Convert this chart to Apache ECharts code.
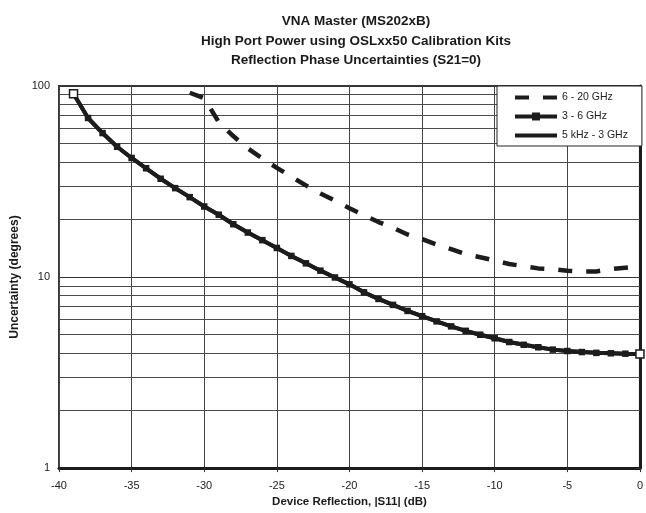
<!DOCTYPE html>
<html>
<head>
<meta charset="utf-8">
<script src="https://cdn.jsdelivr.net/npm/echarts@6/dist/echarts.min.js"></script>
<style>html,body{margin:0;padding:0;background:#fff}#c{width:646px;height:513px}</style>
</head>
<body>
<div id="c"></div>
<script>
// Device reflection |S11| (dB)
var reflection = [-39,-38,-37,-36,-35,-34,-33,-32,-31,-30,-29,-28,-27,-26,-25,-24,-23,-22,-21,-20,-19,-18,-17,-16,-15,-14,-13,-12,-11,-10,-9,-8,-7,-6,-5,-4,-3,-2,-1,0];
// 5 kHz - 3 GHz (degrees)
var lowBand = [91,68,56.7,48.1,42.0,37.1,32.7,29.2,26.2,23.4,21.2,18.9,17.1,15.6,14.2,12.9,11.8,10.8,9.95,9.16,8.32,7.68,7.15,6.65,6.24,5.86,5.52,5.23,4.99,4.78,4.57,4.42,4.29,4.17,4.10,4.05,4.01,3.99,3.97,3.96];
// 3 - 6 GHz (degrees)
var midBand = [91,68,56.7,48.1,42.0,37.1,32.7,29.2,26.2,23.4,21.2,18.9,17.1,15.6,14.2,12.9,11.8,10.8,9.95,9.16,8.32,7.68,7.15,6.65,6.24,5.86,5.52,5.23,4.99,4.78,4.57,4.42,4.29,4.17,4.10,4.05,4.01,3.99,3.97,3.96];
// 6 - 20 GHz (degrees), from -31 dB to 0 dB
var highReflection = [-31,-30,-29,-28,-27,-26,-25,-24,-23,-22,-21,-20,-19,-18,-17,-16,-15,-14,-13,-12,-11,-10,-9,-8,-7,-6,-5,-4,-3,-2,-1,0];
var highBand = [92.2,86.3,64.7,54.7,47.1,41.8,37.3,33.5,30.2,27.4,25.1,22.9,21.1,19.4,18.1,16.7,15.8,14.8,14.0,13.2,12.7,12.2,11.7,11.4,11.1,11.0,10.8,10.7,10.7,11.0,11.2,11.4];
// minor log gridlines
var minorGrid = [2,3,4,5,6,7,8,9,20,30,40,50,60,70,80,90];
var seriesNames = ['6 - 20 GHz','3 - 6 GHz','5 kHz - 3 GHz'];
var titleLines = ['VNA Master (MS202xB)','High Port Power using OSLxx50 Calibration Kits','Reflection Phase Uncertainties (S21=0)'];

var ink = '#1c1c1c';
function pairs(xs, ys){ return xs.map(function(x,i){ return [x, ys[i]]; }); }
var midData = pairs(reflection, midBand).map(function(p, i, arr){
  if (i === 0 || i === arr.length - 1) {
    return { value: p, symbolSize: 8, itemStyle: { color: '#fff', borderColor: ink, borderWidth: 1.5 } };
  }
  return p;
});

var chart = echarts.init(document.getElementById('c'), null, {renderer:'canvas'});
chart.setOption({
  animation: false,
  backgroundColor: '#fff',
  textStyle: { fontFamily: 'Liberation Sans, Arial, sans-serif' },
  title: {
    text: titleLines.join('\n'),
    left: 351, top: 7, textAlign: 'center',
    textStyle: { fontSize: 13.5, fontWeight: 'bold', color: '#1a1a1a', lineHeight: 19.5, fontFamily: 'Liberation Sans, Arial, sans-serif' }
  },
  grid: { left: 59, right: 4, top: 86, bottom: 43, show: true, borderColor: '#3a3a3a', borderWidth: 2, backgroundColor: '#fff' },
  legend: {
    data: [
      { name: seriesNames[0], itemStyle: { opacity: 0 } },
      { name: seriesNames[1] },
      { name: seriesNames[2], itemStyle: { opacity: 0 } }
    ],
    orient: 'vertical', left: 497, top: 86, z: 10,
    itemWidth: 42, itemHeight: 10, itemGap: 8,
    padding: [6, 14, 5, 16],
    lineStyle: { width: 4 },
    backgroundColor: '#fff', borderColor: '#222', borderWidth: 1,
    textStyle: { fontSize: 10.5, color: '#222', fontFamily: 'Liberation Sans, Arial, sans-serif' }
  },
  xAxis: {
    type: 'value', min: -40, max: 0, interval: 5,
    name: 'Device Reflection, |S11| (dB)', nameLocation: 'middle', nameGap: 27,
    nameTextStyle: { fontSize: 11.5, fontWeight: 'bold', color: '#1a1a1a' },
    axisLine: { show: true, onZero: false, lineStyle: { color: ink, width: 3 } },
    axisTick: { show: true, length: 4, lineStyle: { color: '#333', width: 1 } },
    axisLabel: { fontSize: 11, color: '#222', margin: 12 },
    splitLine: { show: true, lineStyle: { color: '#444', width: 1 } }
  },
  yAxis: {
    type: 'log', logBase: 10, min: 1, max: 100,
    name: 'Uncertainty (degrees)', nameLocation: 'middle', nameGap: 30,
    nameTextStyle: { fontSize: 12, fontWeight: 'bold', color: '#1a1a1a' },
    axisLine: { show: true, lineStyle: { color: ink, width: 3 } },
    axisTick: { show: true, length: 4, lineStyle: { color: '#333', width: 1 } },
    axisLabel: { fontSize: 11, color: '#222', margin: 9 },
    splitLine: { show: true, lineStyle: { color: '#333', width: 1 } }
  },
  series: [
    {
      name: 'gridlines', type: 'line', data: [], z: 1, silent: true,
      markLine: {
        z: 1,
        silent: true, symbol: 'none', label: { show: false }, animation: false,
        lineStyle: { color: '#4a4a4a', width: 1, type: 'solid' },
        data: minorGrid.map(function(v){ return { yAxis: v }; })
      }
    },
    {
      name: seriesNames[0], type: 'line', z: 3,
      data: pairs(highReflection, highBand),
      showSymbol: false, symbol: 'none',
      lineStyle: { color: ink, width: 4.5, type: [14, 14] },
      itemStyle: { color: ink }
    },
    {
      name: seriesNames[2], type: 'line', z: 3,
      data: pairs(reflection, lowBand),
      showSymbol: false, symbol: 'none',
      lineStyle: { color: ink, width: 4 },
      itemStyle: { color: ink }
    },
    {
      name: seriesNames[1], type: 'line', z: 4,
      data: midData,
      symbol: 'rect', symbolSize: 6.5, showAllSymbol: true,
      lineStyle: { color: ink, width: 4 },
      itemStyle: { color: ink }
    }
  ]
});
</script>
</body>
</html>
